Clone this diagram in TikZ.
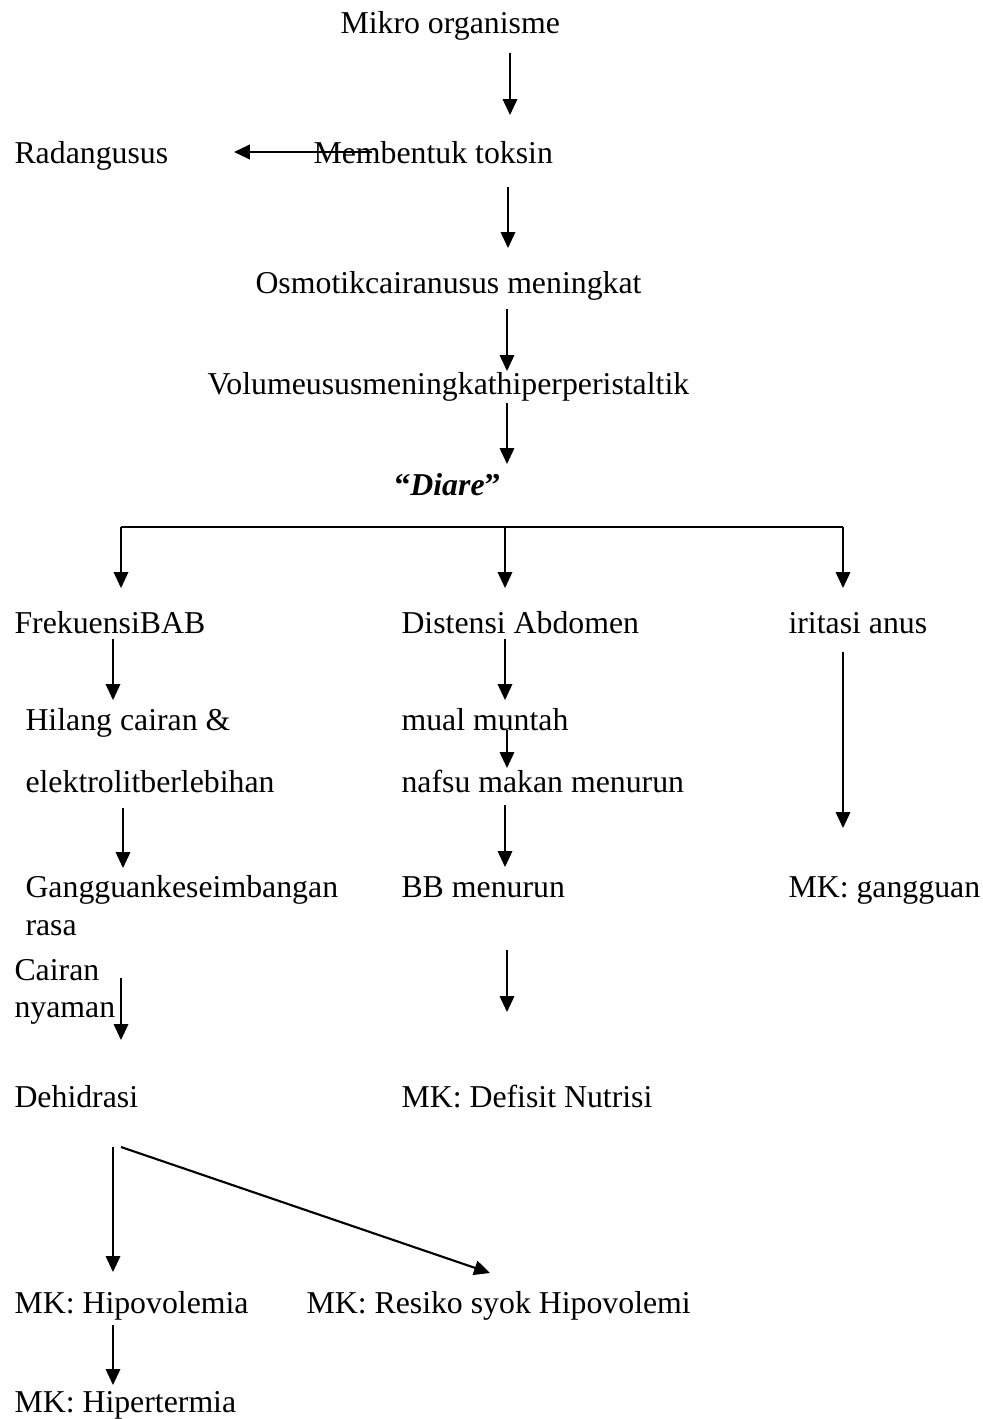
\documentclass[tikz,border=0pt]{standalone}
\usepackage{fontspec}
\setmainfont{Liberation Serif}
\usetikzlibrary{arrows.meta}

\tikzset{
	lbl/.style={anchor=base west, inner sep=0pt, font=\fontsize{12}{14}\selectfont},
	arr/.style={line width=0.55pt, -{Triangle[length=6pt,width=5.5pt]}},
	heavyarr/.style={line width=0.8pt, -{Triangle[length=6pt,width=5.5pt]}}
}

\begin{document}
\begin{tikzpicture}[x=0.37736pt, y=-0.37736pt]
			%%%%% START %%%%%
			\useasboundingbox (0, 0) rectangle (983, 1419);
			
			% top chain
			\node[lbl] (mikro) at (340, 34) {Mikro organisme};
			\node[lbl] (radang) at (14, 163) {Radangusus};
			\node[lbl] (toksin) at (313, 163) {Membentuk toksin};
			\node[lbl] (osmotik) at (255, 293) {Osmotikcairanusus meningkat};
			\node[lbl] (volume) at (207, 394) {Volumeususmeningkathiperperistaltik};
			\node[lbl] (diare) at (394, 495) {\textbf{“\textit{Diare}”}};
			
			% left column
			\node[lbl] (frek) at (14, 633) {FrekuensiBAB};
			\node[lbl] (hilang) at (25, 730) {Hilang cairan \&};
			\node[lbl] (elektro) at (25, 792) {elektrolitberlebihan};
			\node[lbl] (gangguan) at (25, 897) {Gangguankeseimbangan};
			\node[lbl] (rasa) at (25, 935) {rasa};
			\node[lbl] (cairan) at (14, 980) {Cairan};
			\node[lbl] (nyaman) at (14, 1017) {nyaman};
			\node[lbl] (dehidrasi) at (14, 1107) {Dehidrasi};
			\node[lbl] (hipovol) at (14, 1313) {MK: Hipovolemia};
			\node[lbl] (resiko) at (306, 1313) {MK: Resiko syok Hipovolemi};
			\node[lbl] (hiperterm) at (14, 1412) {MK: Hipertermia};
			
			% middle column
			\node[lbl] (distensi) at (401, 633) {Distensi Abdomen};
			\node[lbl] (mual) at (401, 730) {mual muntah};
			\node[lbl] (nafsu) at (401, 792) {nafsu makan menurun};
			\node[lbl] (bb) at (401, 897) {BB menurun};
			\node[lbl] (defisit) at (401, 1107) {MK: Defisit Nutrisi};
			
			% right column
			\node[lbl] (iritasi) at (788, 633) {iritasi anus};
			\node[lbl] (mkgangguan) at (788, 897) {MK: gangguan};
			
			% arrow ends
			\coordinate (mikroA) at (510, 53);    \coordinate (mikroB) at (510, 115);
			\coordinate (radangA) at (372, 152);  \coordinate (radangB) at (234, 152);
			\coordinate (toksinA) at (508, 187);  \coordinate (toksinB) at (508, 248);
			\coordinate (osmoA) at (507, 309);    \coordinate (osmoB) at (507, 371);
			\coordinate (volA) at (507, 403);     \coordinate (volB) at (507, 464);
			\coordinate (brL) at (121, 527);      \coordinate (brL2) at (121, 588);
			\coordinate (brM) at (505, 527);      \coordinate (brM2) at (505, 588);
			\coordinate (brR) at (843, 527);      \coordinate (brR2) at (843, 588);
			\coordinate (frekA) at (113, 639);    \coordinate (frekB) at (113, 700);
			\coordinate (elekA) at (123, 808);    \coordinate (elekB) at (123, 868);
			\coordinate (nyamA) at (121, 978);    \coordinate (nyamB) at (121, 1040);
			\coordinate (distA) at (505, 639);    \coordinate (distB) at (505, 700);
			\coordinate (mualA) at (507, 730);    \coordinate (mualB) at (507, 768);
			\coordinate (nafsA) at (505, 805);    \coordinate (nafsB) at (505, 867);
			\coordinate (bbA) at (507, 950);      \coordinate (bbB) at (507, 1012);
			\coordinate (iritA) at (843, 652);    \coordinate (iritB) at (843, 828);
			\coordinate (dehA) at (113, 1147);    \coordinate (dehB) at (113, 1272);
			\coordinate (dehC) at (121, 1147);    \coordinate (dehD) at (490, 1273);
			\coordinate (hipoA) at (113, 1325);   \coordinate (hipoB) at (113, 1385);
			
			% arrows
			\draw[arr] (mikroA) -- (mikroB);
			\draw[heavyarr] (radangA) -- (radangB);
			\draw[arr] (toksinA) -- (toksinB);
			\draw[arr] (osmoA) -- (osmoB);
			\draw[arr] (volA) -- (volB);
			
			\draw[line width=0.8pt] (brL) -- (brR);
			\draw[arr] (brL) -- (brL2);
			\draw[arr] (brM) -- (brM2);
			\draw[arr] (brR) -- (brR2);
			
			\draw[arr] (frekA) -- (frekB);
			\draw[arr] (elekA) -- (elekB);
			\draw[arr] (nyamA) -- (nyamB);
			\draw[arr] (distA) -- (distB);
			\draw[arr] (mualA) -- (mualB);
			\draw[arr] (nafsA) -- (nafsB);
			\draw[arr] (bbA) -- (bbB);
			\draw[arr] (iritA) -- (iritB);
			
			\draw[arr] (dehA) -- (dehB);
			\draw[heavyarr] (dehC) -- (dehD);
			\draw[arr] (hipoA) -- (hipoB);
			
			%%%%% END %%%%%
\end{tikzpicture}
\end{document}
